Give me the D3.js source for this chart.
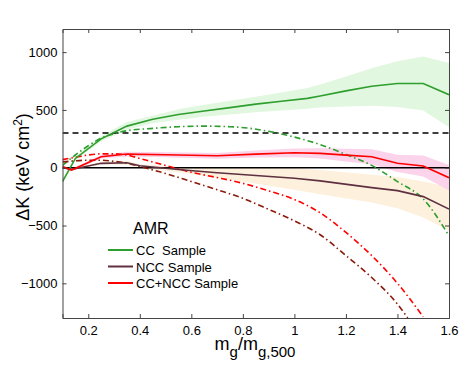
<!DOCTYPE html>
<html lang="en">
<head>
<meta charset="UTF-8" />
<title>Delta K vs mg/mg500</title>
<style>
  body { margin: 0; background: #fff; overflow: hidden; }
  svg { display: block; font-family: "Liberation Sans", Arial, sans-serif; }
  .tick text { font-size: 13px; fill: #000; }
</style>
</head>
<body>
<svg id="chart" width="463" height="366"></svg>
<script src="https://d3js.org/d3.v7.min.js"></script>
<script>
// axis ticks
const xTicks = [0.2, 0.4, 0.6, 0.8, 1, 1.2, 1.4, 1.6];
const yTicks = [-1000, -500, 0, 500, 1000];

// CC sample (solid green) + uncertainty band
const ccX     = [0.1, 0.15, 0.25, 0.35, 0.45, 0.55, 0.65, 0.75, 0.85, 0.95, 1.05, 1.1, 1.2, 1.3, 1.4, 1.5, 1.6];
const ccK     = [-120, 80, 250, 360, 420, 460, 490, 520, 550, 575, 600, 620, 665, 705, 728, 728, 632];
const ccUpper = [-110, 95, 275, 395, 450, 505, 545, 580, 615, 650, 690, 720, 790, 860, 920, 962, 905];
const ccLower = [-130, 65, 228, 328, 385, 415, 440, 460, 480, 495, 510, 520, 530, 535, 525, 495, 350];

// NCC sample (solid dark purple) + band
const nccX     = [0.1, 0.135, 0.25, 0.35, 0.4, 0.57, 0.7, 1.0, 1.1, 1.3, 1.4, 1.5, 1.6];
const nccK     = [0, -15, 38, 43, 17, -20, -43, -91, -114, -172, -198, -250, -358];
const nccUpper = [5, -5, 50, 60, 30, 5, 0, -5, -20, -60, -80, -120, -170];
const nccLower = [-5, -25, 25, 25, 0, -45, -85, -190, -230, -300, -350, -430, -545];

// CC+NCC sample (solid red) + band
const allX     = [0.1, 0.135, 0.25, 0.35, 0.5, 0.7, 0.85, 1.0, 1.1, 1.2, 1.3, 1.4, 1.5, 1.6];
const allK     = [10, -20, 95, 118, 112, 103, 118, 129, 124, 109, 95, 38, 15, -86];
const allUpper = [20, -10, 110, 138, 134, 128, 148, 167, 169, 164, 160, 113, 105, 24];
const allLower = [0, -30, 80, 98, 90, 78, 88, 91, 79, 54, 30, -37, -75, -196];

// model curves (dash-dot)
const ccModelX  = [0.1, 0.15, 0.2, 0.25, 0.3, 0.35, 0.45, 0.55, 0.65, 0.75, 0.83, 0.9, 1.0, 1.1, 1.2, 1.3, 1.4, 1.5, 1.6];
const ccModelK  = [20, 110, 190, 255, 295, 320, 340, 355, 360, 355, 340, 315, 265, 200, 115, 20, -120, -270, -590];
const allModelX = [0.1, 0.15, 0.2, 0.25, 0.3, 0.35, 0.4, 0.5, 0.6, 0.7, 0.8, 0.9, 1.0, 1.1, 1.2, 1.3, 1.4, 1.5];
const allModelK = [70, 90, 110, 120, 120, 110, 80, 20, -40, -85, -135, -200, -275, -390, -560, -760, -1000, -1290];
const nccModelX = [0.1, 0.15, 0.2, 0.25, 0.3, 0.35, 0.4, 0.5, 0.6, 0.7, 0.8, 0.9, 1.0, 1.1, 1.2, 1.3, 1.4, 1.44];
const nccModelK = [50, 60, 65, 65, 55, 40, 10, -50, -120, -190, -265, -360, -460, -580, -760, -950, -1180, -1300];

const threshold = 300;

const margin = { top: 29, right: 14, bottom: 48, left: 62.5 };
const width = 463, height = 366;
const svg = d3.select('#chart');

const x = d3.scaleLinear().domain([0.1, 1.6]).range([margin.left, width - margin.right]);
const y = d3.scaleLinear().domain([-1300, 1200]).range([height - margin.bottom, margin.top]);

// clip region
svg.append('clipPath').attr('id', 'clip')
  .append('rect')
  .attr('x', x(0.1)).attr('y', y(1200))
  .attr('width', x(1.6) - x(0.1)).attr('height', y(-1300) - y(1200));

const plot = svg.append('g').attr('clip-path', 'url(#clip)');

function band(xs, lo, hi, color) {
  const pts = xs.map((d, i) => ({ x: d, lo: lo[i], hi: hi[i] }));
  plot.append('path')
    .datum(pts)
    .attr('fill', color)
    .attr('d', d3.area().x(d => x(d.x)).y0(d => y(d.lo)).y1(d => y(d.hi)));
}

function line(xs, ys, color, width, dash, curve) {
  const pts = xs.map((d, i) => [d, ys[i]]);
  plot.append('path')
    .datum(pts)
    .attr('fill', 'none')
    .attr('stroke', color)
    .attr('stroke-width', width)
    .attr('stroke-dasharray', dash)
    .attr('d', d3.line().x(d => x(d[0])).y(d => y(d[1])).curve(curve || d3.curveLinear));
}

const green = '#2e9e2e', purple = '#5e3040', red = '#ff0000', darkRed = '#8b1a0a';

band(ccX, ccLower, ccUpper, '#e2f7df');
band(nccX, nccLower, nccUpper, '#fdf0dc');
band(allX, allLower, allUpper, '#fbd3ea');

// reference lines
line([0.1, 1.6], [0, 0], '#000', 1.6, null);
line([0.1, 1.6], [threshold, threshold], '#000', 1.6, '6,4');

const dashDot = '6,3,1.5,3';
line(ccModelX, ccModelK, green, 1.6, dashDot, d3.curveMonotoneX);
line(nccModelX, nccModelK, darkRed, 1.6, dashDot, d3.curveMonotoneX);
line(allModelX, allModelK, red, 1.6, dashDot, d3.curveMonotoneX);

line(ccX, ccK, green, 1.6, null);
line(nccX, nccK, purple, 1.6, null);
line(allX, allK, red, 1.6, null);

// axes (box with inner ticks)
const axisColor = '#444';
const axBottom = svg.append('g').attr('transform', `translate(0,${y(-1300)})`)
  .call(d3.axisBottom(x).tickValues(xTicks).tickSize(-4).tickPadding(8).tickFormat(d3.format('')));
const axTop = svg.append('g').attr('transform', `translate(0,${y(1200)})`)
  .call(d3.axisTop(x).tickValues(xTicks).tickSize(-4).tickFormat(''));
const axLeft = svg.append('g').attr('transform', `translate(${x(0.1)},0)`)
  .call(d3.axisLeft(y).tickValues(yTicks).tickSize(-4).tickPadding(5)
    .tickFormat(d => d < 0 ? '\u2212' + Math.abs(d) : d));
const axRight = svg.append('g').attr('transform', `translate(${x(1.6)},0)`)
  .call(d3.axisRight(y).tickValues(yTicks).tickSize(-4).tickFormat(''));

[axBottom, axTop, axLeft, axRight].forEach(g => {
  g.select('.domain').attr('stroke', axisColor).attr('stroke-width', 1);
  g.selectAll('.tick line').attr('stroke', axisColor);
  g.selectAll('.tick text').style('font-size', '13px');
});

// axis labels
const xl = svg.append('text')
  .attr('x', 255).attr('y', 350)
  .attr('text-anchor', 'middle')
  .style('font-size', '18px');
xl.append('tspan').text('m');
xl.append('tspan').attr('dy', 7).style('font-size', '15px').text('g');
xl.append('tspan').attr('dy', -7).text('/m');
xl.append('tspan').attr('dy', 7).style('font-size', '15px').text('g,500');

const yl = svg.append('text')
  .attr('transform', 'translate(29,167) rotate(-90)')
  .attr('text-anchor', 'middle')
  .style('font-size', '18px');
yl.append('tspan').text('\u0394K (keV cm');
yl.append('tspan').attr('dy', -7).style('font-size', '12px').text('2');
yl.append('tspan').attr('dy', 7).text(')');

// legend
const legendItems = ['CC\u00a0 Sample', 'NCC Sample', 'CC+NCC Sample'];
const legendColors = [green, purple, red];
svg.append('text').attr('x', 133).attr('y', 234).style('font-size', '16px').text('AMR');
const lg = svg.append('g');
legendItems.forEach((name, i) => {
  const ly = 250 + i * 16.5;
  lg.append('line').attr('x1', 108).attr('x2', 133).attr('y1', ly).attr('y2', ly)
    .attr('stroke', legendColors[i]).attr('stroke-width', 2);
  lg.append('text').attr('x', 136).attr('y', ly + 5).style('font-size', '13px').text(name);
});
</script>
</body>
</html>
